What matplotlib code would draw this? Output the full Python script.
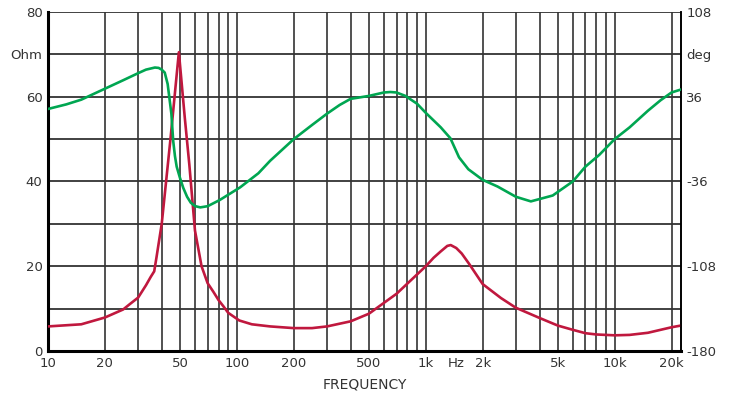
import matplotlib.pyplot as plt
from matplotlib.ticker import FixedLocator, NullLocator

# impedance (Ohm) vs frequency (Hz)
imp_freq = [10, 15, 20, 25, 27, 30, 33, 35, 36.5, 37.5, 40, 44.5, 49.3, 53, 56, 60,
            65, 70, 75, 80, 85, 90, 103, 120, 150, 200, 250, 300, 400, 500, 700,
            1000, 1100, 1200, 1300, 1355, 1450, 1550, 1700, 2000, 2500, 3000, 4000,
            5000, 6000, 7000, 8000, 10000, 12000, 15000, 20000, 22400]
imp_ohm = [5.8, 6.3, 7.9, 9.8, 11, 12.6, 15.5, 17.5, 18.8, 22, 30, 50, 70.5, 55,
           44, 28.4, 20, 16, 14, 12, 10.5, 9, 7.2, 6.3, 5.8, 5.4, 5.4, 5.8, 7, 8.8,
           13.5, 20, 22, 23.5, 24.8, 25, 24.3, 23, 20.5, 15.8, 12.5, 10.2, 7.8, 6,
           5, 4.2, 3.9, 3.7, 3.8, 4.3, 5.6, 6]

# phase (deg) vs frequency (Hz)
ph_freq = [10, 12.5, 15, 20, 25, 30, 33, 36.8, 38.5, 40, 41.5, 43, 44, 45, 46, 47,
           48, 50, 52, 54.5, 57, 60, 64, 70, 81, 104, 130, 150, 200, 250, 300, 350,
           400, 450, 500, 600, 650, 700, 780, 900, 1000, 1200, 1350, 1500, 1680,
           2000, 2400, 3000, 3600, 4700, 6000, 7000, 8300, 10000, 12000, 15000,
           17500, 20000, 22400]
ph_deg = [25.6, 29.5, 33.5, 42.8, 50, 56, 59, 60.8, 60.5, 59, 56.5, 46.8, 34, 21.6,
          -1.4, -14.4, -23.4, -33.1, -41.4, -49, -54, -56.9, -58, -57, -51.8, -41,
          -29, -18.4, 0, 12, 21.6, 29, 34.2, 35.5, 36.7, 39.6, 40, 39.6, 36.7, 30,
          22.3, 10, 0.7, -15.5, -25.6, -34.6, -40.3, -49, -52.9, -47.9, -36, -23.4,
          -13.3, 0, 10, 24.1, 33, 39.6, 42.1]

x_ticks = [10, 20, 50, 100, 200, 500, 1000, 1450, 2000, 5000, 10000, 20000]
x_labels = ["10", "20", "50", "100", "200", "500", "1k", "Hz", "2k", "5k", "10k", "20k"]
left_ticks = [0, 20, 40, 60, 70, 80]
left_labels = ["0", "20", "40", "60", "Ohm", "80"]
right_ticks = [-180, -108, -36, 36, 72, 108]
right_labels = ["-180", "-108", "-36", "36", "deg", "108"]

grid_freqs = [20, 30, 40, 50, 60, 70, 80, 90, 100, 200, 300, 400, 500, 600, 700,
              800, 900, 1000, 2000, 3000, 4000, 5000, 6000, 7000, 8000, 9000,
              10000, 20000]

txt = "#333333"
fig = plt.figure(figsize=(7.35, 3.99), dpi=100)
ax = fig.add_axes([0.0653, 0.1203, 0.861, 0.8497])
ax.set_xscale("log")
ax.set_xlim(10, 22400)
ax.set_ylim(0, 80)

for f in grid_freqs:
    ax.axvline(f, color="#222222", lw=1.1, zorder=1)
for v in range(10, 81, 10):
    ax.axhline(v, color="#333333", lw=1.3, zorder=1)

ax.plot(imp_freq, imp_ohm, color="#c0183e", lw=1.9, zorder=3)

ax.xaxis.set_major_locator(FixedLocator(x_ticks))
ax.xaxis.set_minor_locator(NullLocator())
ax.set_xticklabels(x_labels)
ax.set_yticks(left_ticks)
ax.set_yticklabels(left_labels)
ax.tick_params(axis="both", length=0, labelsize=9.5, colors=txt, pad=4)
ax.set_xlabel("FREQUENCY", fontsize=10, color=txt, labelpad=6)

ax.spines["top"].set_visible(False)
ax.spines["left"].set_linewidth(2.2)
ax.spines["bottom"].set_linewidth(2.2)
ax.spines["right"].set_linewidth(1.2)

ax2 = ax.twinx()
ax2.set_ylim(-180, 108)
ax2.plot(ph_freq, ph_deg, color="#00a651", lw=1.9, zorder=3)
ax2.set_yticks(right_ticks)
ax2.set_yticklabels(right_labels)
ax2.tick_params(axis="y", length=0, labelsize=9.5, colors=txt, pad=4)
for s in ["top", "left", "bottom"]:
    ax2.spines[s].set_visible(False)
ax2.spines["right"].set_linewidth(1.2)

fig.savefig("out.png", dpi=100)
